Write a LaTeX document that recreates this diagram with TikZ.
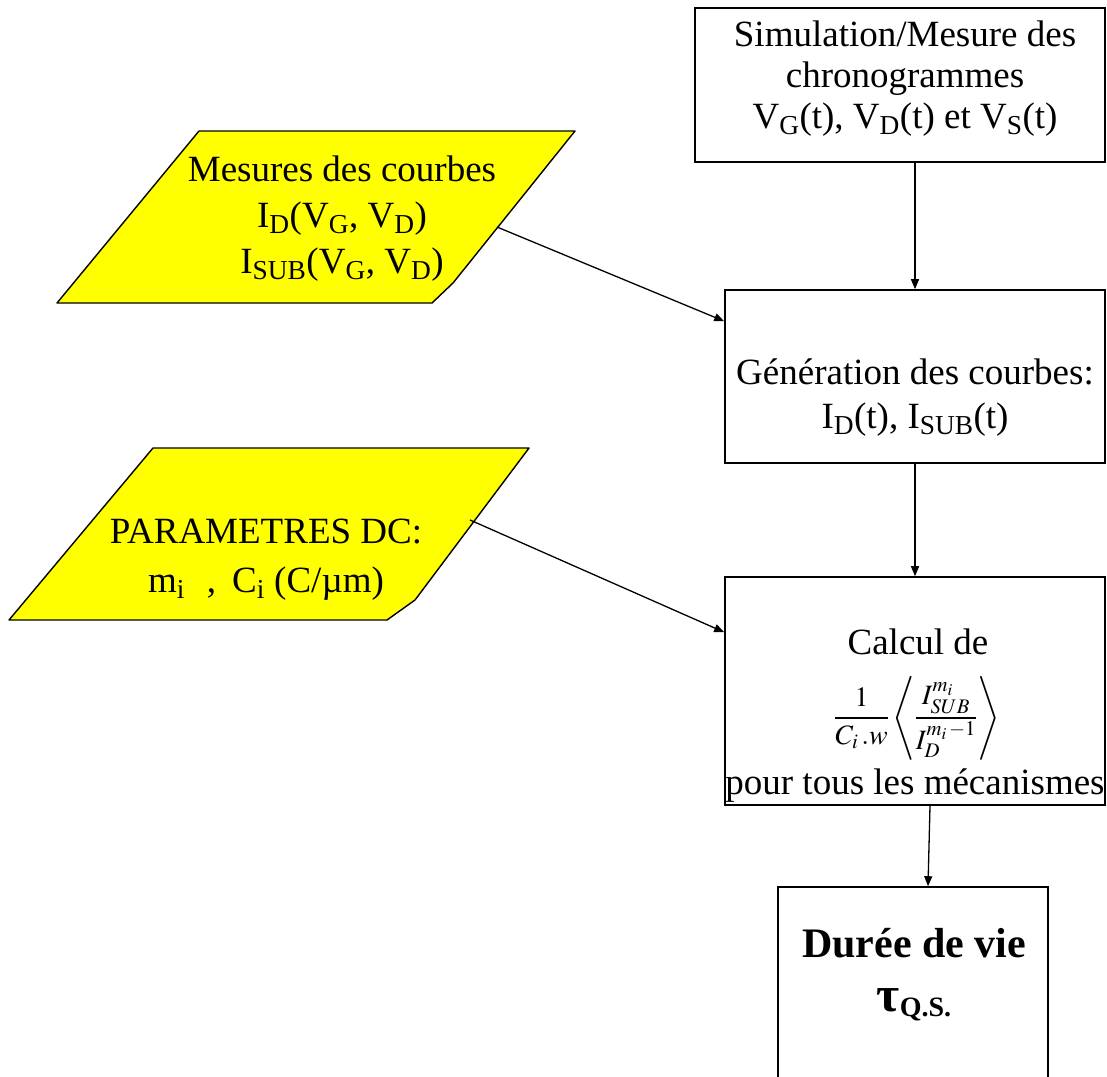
\documentclass[tikz,border=0pt]{standalone}
\usepackage{mathptmx}
\usepackage[no-math]{fontspec}
\setmainfont{Liberation Serif}
\usepackage{tikz}
\usetikzlibrary{positioning, calc, arrows.meta}
\definecolor{ParYellow}{HTML}{FFFF00}
\newcommand{\sbs}[1]{\textsubscript{#1}}

\begin{document}
\begin{tikzpicture}[x=1pt, y=1pt,
  box/.style={draw, line width=1.6pt, inner sep=0pt},
  para/.style={draw, fill=ParYellow, line width=1.4pt, line join=round},
  lbl/.style={align=center, font=\fontsize{37}{41}\selectfont, inner sep=0pt},
  arr/.style={-{Triangle[length=10pt,width=8pt]}, line width=1.3pt}]
  \useasboundingbox (0,0) rectangle (1107,-1076);
  % right column
  \node[box, minimum width=410, minimum height=154] (sim) at (900,-85) {};
  \node[lbl] (simtxt) at (905,-79)
    {Simulation/Mesure des\\ chronogrammes\\ V\sbs{G}(t), V\sbs{D}(t) et V\sbs{S}(t)};
  \node[box, minimum width=380, minimum height=173] (gen) at (915,-376.5) {};
  \node[lbl, font=\fontsize{37}{44}\selectfont] (gentxt) at (915,-398)
    {Génération des courbes:\\ I\sbs{D}(t), I\sbs{SUB}(t)};
  \node[box, minimum width=380, minimum height=228] (calcul) at (915,-691) {};
  \node[lbl, anchor=base] (calculde) at (918,-654) {Calcul de};
  \node[lbl, font=\fontsize{28}{32}\selectfont] (formule) at (917,-718)
    {$\displaystyle\frac{1}{C_i\,.w}\left\langle\frac{I_{SUB}^{m_i}}{I_D^{m_i\,-1}}\right\rangle$};
  \node[lbl, anchor=base] (pourtous) at (915,-794) {pour tous les mécanismes};
  \node[box, minimum width=270, minimum height=230] (duree) at (913,-1002) {};
  \node[lbl, font=\fontsize{42}{54}\selectfont\bfseries] (dureetxt) at (914,-975)
    {Durée de vie\\ {\fontsize{50}{54}\selectfont τ}\raisebox{-0.25ex}{\fontsize{28}{30}\selectfont Q.S.}};
  % inputs
  \draw[para] (57,-303) -- (199,-131) -- (575,-131) -- (453,-283) -- (432,-303) -- cycle;
  \coordinate (mesout) at (497,-227);
  \node[lbl, font=\fontsize{37}{46}\selectfont] (mes) at (342,-219)
    {Mesures des courbes\\ I\sbs{D}(V\sbs{G}, V\sbs{D})\\ I\sbs{SUB}(V\sbs{G}, V\sbs{D})};
  \draw[para] (9,-620) -- (153,-448) -- (529,-448) -- (415,-600) -- (387,-620) -- cycle;
  \coordinate (dcout) at (470,-520);
  \node[lbl, font=\fontsize{37}{49}\selectfont] (dc) at (266,-560)
    {PARAMETRES DC:\\ m\sbs{i}\hspace{22pt},\hspace{16pt}C\sbs{i} (C/µm)};
  % connectors
  \draw[arr] (sim.south -| gen.north) -- (gen.north);
  \draw[arr] (gen.south) -- (calcul.north);
  \draw[arr] ([xshift=15pt]calcul.south) -- ([xshift=15pt]duree.north);
  \draw[arr] (mesout) -- ($(gen.north west)+(0,-32)$);
  \draw[arr] (dcout) -- ($(calcul.north west)+(0,-56)$);
\end{tikzpicture}
\end{document}
